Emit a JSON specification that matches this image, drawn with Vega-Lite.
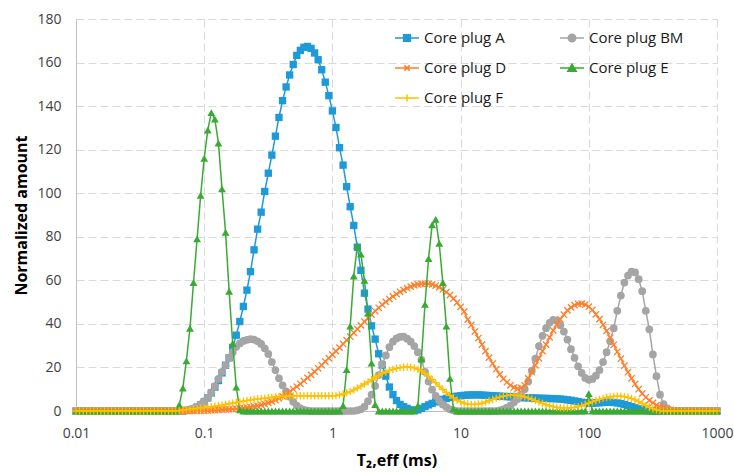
{
"$schema": "https://vega.github.io/schema/vega-lite/v6.json",
"width": 641, "height": 392,
"autosize": {"type": "none"},
"padding": {"left": 76, "top": 19, "right": 17, "bottom": 62},
"config": {"view": {"stroke": null}, "font": "Open Sans"},
"data": {"values": [
{"t":0.01,"A":0,"BM":0,"D":0,"E":0,"F":0},
{"t":0.010661,"A":0,"BM":0,"D":0,"E":0,"F":0},
{"t":0.011365,"A":0,"BM":0,"D":0,"E":0,"F":0},
{"t":0.012115,"A":0,"BM":0,"D":0,"E":0,"F":0},
{"t":0.012915,"A":0,"BM":0,"D":0,"E":0,"F":0},
{"t":0.013768,"A":0,"BM":0,"D":0,"E":0,"F":0},
{"t":0.014678,"A":0,"BM":0,"D":0,"E":0,"F":0},
{"t":0.015647,"A":0,"BM":0,"D":0,"E":0,"F":0},
{"t":0.016681,"A":0,"BM":0,"D":0,"E":0,"F":0},
{"t":0.017783,"A":0,"BM":0,"D":0,"E":0,"F":0},
{"t":0.018957,"A":0,"BM":0,"D":0,"E":0,"F":0},
{"t":0.02021,"A":0,"BM":0,"D":0,"E":0,"F":0},
{"t":0.021544,"A":0,"BM":0,"D":0,"E":0,"F":0},
{"t":0.022968,"A":0,"BM":0,"D":0,"E":0,"F":0},
{"t":0.024484,"A":0,"BM":0,"D":0,"E":0,"F":0},
{"t":0.026102,"A":0,"BM":0,"D":0,"E":0,"F":0},
{"t":0.027826,"A":0,"BM":0,"D":0,"E":0,"F":0},
{"t":0.029663,"A":0,"BM":0,"D":0,"E":0,"F":0},
{"t":0.031623,"A":0,"BM":0,"D":0,"E":0,"F":0},
{"t":0.033711,"A":0,"BM":0,"D":0,"E":0,"F":0},
{"t":0.035938,"A":0,"BM":0,"D":0,"E":0,"F":0},
{"t":0.038312,"A":0,"BM":0,"D":0,"E":0,"F":0},
{"t":0.040842,"A":0,"BM":0,"D":0,"E":0,"F":0},
{"t":0.043541,"A":0,"BM":0,"D":0,"E":0,"F":0},
{"t":0.046416,"A":0,"BM":0,"D":0,"E":0,"F":0},
{"t":0.049482,"A":0,"BM":0,"D":0,"E":0,"F":0},
{"t":0.05275,"A":0,"BM":0,"D":0,"E":0,"F":0},
{"t":0.056234,"A":0,"BM":0,"D":0,"E":0,"F":0},
{"t":0.059948,"A":0,"BM":0,"D":0,"E":0,"F":0.1},
{"t":0.063908,"A":0,"BM":0,"D":0,"E":2.8,"F":0.2},
{"t":0.068129,"A":0,"BM":0,"D":0,"E":10.5,"F":0.4},
{"t":0.07263,"A":0.3,"BM":0.3,"D":0,"E":23,"F":0.6},
{"t":0.077426,"A":0.6,"BM":0.7,"D":0,"E":38,"F":0.8},
{"t":0.08254,"A":1,"BM":1.2,"D":0,"E":59,"F":1},
{"t":0.087992,"A":1.8,"BM":2,"D":0,"E":79,"F":1.2},
{"t":0.093804,"A":2.8,"BM":3,"D":0,"E":99,"F":1.4},
{"t":0.1,"A":4.2,"BM":4.5,"D":0.1,"E":116,"F":1.6},
{"t":0.10661,"A":6,"BM":6,"D":0.2,"E":129,"F":1.8},
{"t":0.11365,"A":8.3,"BM":8.5,"D":0.3,"E":137,"F":2},
{"t":0.12115,"A":11,"BM":11.4,"D":0.4,"E":134,"F":2.2},
{"t":0.12915,"A":14,"BM":14.7,"D":0.5,"E":123,"F":2.4},
{"t":0.13768,"A":17.5,"BM":18,"D":0.6,"E":102,"F":2.7},
{"t":0.14678,"A":21,"BM":21,"D":0.7,"E":82,"F":3},
{"t":0.15647,"A":24.4,"BM":24.5,"D":0.8,"E":55,"F":3.3},
{"t":0.16681,"A":29.2,"BM":27,"D":0.9,"E":31,"F":3.6},
{"t":0.17783,"A":34.8,"BM":29.5,"D":1,"E":11,"F":3.9},
{"t":0.18957,"A":41.1,"BM":31,"D":1.2,"E":0.5,"F":4.2},
{"t":0.2021,"A":48,"BM":32.2,"D":1.4,"E":0,"F":4.5},
{"t":0.21544,"A":55.5,"BM":32.7,"D":1.6,"E":0,"F":4.8},
{"t":0.22968,"A":64,"BM":33,"D":1.8,"E":0,"F":5},
{"t":0.24484,"A":74,"BM":32.8,"D":2.1,"E":0,"F":5.3},
{"t":0.26102,"A":83.5,"BM":32,"D":2.4,"E":0,"F":5.5},
{"t":0.27826,"A":91.3,"BM":30.8,"D":2.8,"E":0,"F":5.7},
{"t":0.29663,"A":100.8,"BM":28.8,"D":3.2,"E":0,"F":5.9},
{"t":0.31623,"A":109.2,"BM":26.2,"D":3.7,"E":0,"F":6.1},
{"t":0.33711,"A":117.5,"BM":22.5,"D":4.3,"E":0,"F":6.3},
{"t":0.35938,"A":126.2,"BM":18.8,"D":5,"E":0,"F":6.5},
{"t":0.38312,"A":134.8,"BM":15,"D":5.8,"E":0,"F":6.6},
{"t":0.40842,"A":142.5,"BM":11.8,"D":6.7,"E":0,"F":6.7},
{"t":0.43541,"A":148.8,"BM":9,"D":7.7,"E":0,"F":6.8},
{"t":0.46416,"A":154.3,"BM":6.5,"D":8.8,"E":0,"F":6.9},
{"t":0.49482,"A":159.1,"BM":4.2,"D":10,"E":0,"F":6.9},
{"t":0.5275,"A":163.3,"BM":2.5,"D":11.2,"E":0,"F":7},
{"t":0.56234,"A":165.6,"BM":1.2,"D":12.5,"E":0,"F":7},
{"t":0.59948,"A":167,"BM":0.5,"D":13.8,"E":0,"F":7},
{"t":0.63908,"A":167.4,"BM":0.2,"D":15.2,"E":0,"F":7},
{"t":0.68129,"A":166.5,"BM":0,"D":16.6,"E":0,"F":7},
{"t":0.7263,"A":164.4,"BM":0,"D":18.1,"E":0,"F":7},
{"t":0.77426,"A":161.3,"BM":0,"D":19.6,"E":0,"F":7},
{"t":0.8254,"A":156.7,"BM":0,"D":21.1,"E":0,"F":7},
{"t":0.87992,"A":151,"BM":0,"D":22.7,"E":0,"F":7},
{"t":0.93804,"A":144.8,"BM":0,"D":24.3,"E":0,"F":7},
{"t":1,"A":137.8,"BM":0,"D":25.9,"E":0,"F":7},
{"t":1.0661,"A":130.2,"BM":0,"D":27.5,"E":0,"F":7.1},
{"t":1.1365,"A":120.9,"BM":0,"D":29.1,"E":0,"F":7.4},
{"t":1.2115,"A":112.9,"BM":0,"D":30.8,"E":2.5,"F":7.8},
{"t":1.2915,"A":103,"BM":0,"D":32.5,"E":19,"F":8.3},
{"t":1.3768,"A":93.8,"BM":0,"D":34.2,"E":39,"F":8.9},
{"t":1.4678,"A":85.2,"BM":0,"D":35.9,"E":62,"F":9.7},
{"t":1.5647,"A":75.2,"BM":0.3,"D":37.6,"E":76,"F":10.5},
{"t":1.6681,"A":64.6,"BM":0.8,"D":39.3,"E":72,"F":11.4},
{"t":1.7783,"A":54.1,"BM":2,"D":41,"E":60,"F":12.4},
{"t":1.8957,"A":46.8,"BM":4.5,"D":42.7,"E":45,"F":13.4},
{"t":2.021,"A":39.1,"BM":7.5,"D":44.3,"E":22,"F":14.4},
{"t":2.1544,"A":33,"BM":11.5,"D":45.9,"E":3,"F":15.4},
{"t":2.2968,"A":26.3,"BM":16.5,"D":47.4,"E":0,"F":16.3},
{"t":2.4484,"A":21.1,"BM":21.5,"D":48.8,"E":0,"F":17.2},
{"t":2.6102,"A":16,"BM":25.5,"D":50.1,"E":0,"F":17.9},
{"t":2.7826,"A":11,"BM":29.3,"D":51.4,"E":0,"F":18.6},
{"t":2.9663,"A":7.5,"BM":31.8,"D":52.6,"E":0,"F":19.1},
{"t":3.1623,"A":4.8,"BM":33.3,"D":53.7,"E":0,"F":19.6},
{"t":3.3711,"A":3,"BM":34,"D":54.7,"E":0,"F":19.9},
{"t":3.5938,"A":2,"BM":34.2,"D":55.6,"E":0,"F":20.1},
{"t":3.8312,"A":1.2,"BM":33.2,"D":56.4,"E":0,"F":20.2},
{"t":4.0842,"A":0.5,"BM":31.8,"D":57.1,"E":0,"F":20.1},
{"t":4.3541,"A":0.3,"BM":29.8,"D":57.7,"E":0,"F":19.8},
{"t":4.6416,"A":0.5,"BM":27,"D":58.1,"E":2.5,"F":19.2},
{"t":4.9482,"A":1.2,"BM":23.5,"D":58.4,"E":24,"F":18.4},
{"t":5.275,"A":2,"BM":18,"D":58.5,"E":49,"F":17.3},
{"t":5.6234,"A":2.8,"BM":13.5,"D":58.4,"E":70,"F":16},
{"t":5.9948,"A":3.5,"BM":9.8,"D":58.1,"E":85.5,"F":14.5},
{"t":6.3908,"A":4.2,"BM":7,"D":57.6,"E":88,"F":13},
{"t":6.8129,"A":4.8,"BM":4.8,"D":56.8,"E":77,"F":11.4},
{"t":7.263,"A":5.3,"BM":3,"D":55.8,"E":59,"F":9.9},
{"t":7.7426,"A":5.8,"BM":1.8,"D":54.6,"E":39,"F":8.5},
{"t":8.254,"A":6.2,"BM":0.8,"D":53.2,"E":15,"F":7.2},
{"t":8.7992,"A":6.5,"BM":0.3,"D":51.6,"E":1,"F":6},
{"t":9.3804,"A":6.8,"BM":0,"D":49.8,"E":0,"F":5},
{"t":10,"A":7,"BM":0,"D":47.8,"E":0,"F":4.2},
{"t":10.661,"A":7.2,"BM":0,"D":45.6,"E":0,"F":3.6},
{"t":11.365,"A":7.3,"BM":0,"D":42,"E":0,"F":3.2},
{"t":12.115,"A":7.4,"BM":0,"D":39.5,"E":0,"F":3},
{"t":12.915,"A":7.4,"BM":0,"D":36.5,"E":0,"F":3},
{"t":13.768,"A":7.4,"BM":0,"D":33.5,"E":0,"F":3.2},
{"t":14.678,"A":7.3,"BM":0,"D":30.5,"E":0,"F":3.6},
{"t":15.647,"A":7.2,"BM":0,"D":27.5,"E":0,"F":4.1},
{"t":16.681,"A":7.1,"BM":0,"D":24.5,"E":0,"F":4.7},
{"t":17.783,"A":7,"BM":0,"D":21.8,"E":0,"F":5.3},
{"t":18.957,"A":6.9,"BM":0,"D":19.2,"E":0,"F":5.9},
{"t":20.21,"A":6.8,"BM":0.3,"D":16.8,"E":0,"F":6.4},
{"t":21.544,"A":6.7,"BM":0.8,"D":14.8,"E":0,"F":6.8},
{"t":22.968,"A":6.6,"BM":1.5,"D":13.2,"E":0,"F":7.1},
{"t":24.484,"A":6.5,"BM":2.5,"D":11.8,"E":0,"F":7.3},
{"t":26.102,"A":6.4,"BM":4,"D":10.8,"E":0,"F":7.3},
{"t":27.826,"A":6.3,"BM":5.5,"D":10.3,"E":0,"F":7.2},
{"t":29.663,"A":6.2,"BM":7.5,"D":10.6,"E":0,"F":6.9},
{"t":31.623,"A":6.1,"BM":10,"D":11.8,"E":0,"F":6.5},
{"t":33.711,"A":6,"BM":13.5,"D":15,"E":0,"F":6},
{"t":35.938,"A":6,"BM":18.5,"D":17.8,"E":0,"F":5.4},
{"t":38.312,"A":5.9,"BM":24,"D":21,"E":0,"F":4.8},
{"t":40.842,"A":5.9,"BM":29.8,"D":24.2,"E":0,"F":4.1},
{"t":43.541,"A":5.8,"BM":34.5,"D":27.5,"E":0,"F":3.5},
{"t":46.416,"A":5.8,"BM":38,"D":30.5,"E":0,"F":2.9},
{"t":49.482,"A":5.7,"BM":40.5,"D":33.8,"E":0,"F":2.4},
{"t":52.75,"A":5.7,"BM":41.8,"D":37,"E":0,"F":2},
{"t":56.234,"A":5.6,"BM":41.5,"D":39.8,"E":0,"F":1.7},
{"t":59.948,"A":5.5,"BM":39.4,"D":42.1,"E":0,"F":1.5},
{"t":63.908,"A":5.3,"BM":36.5,"D":44.2,"E":0,"F":1.4},
{"t":68.129,"A":5.1,"BM":32.8,"D":46.2,"E":0,"F":1.4},
{"t":72.63,"A":4.9,"BM":28.4,"D":47.6,"E":0,"F":1.5},
{"t":77.426,"A":4.6,"BM":24.4,"D":48.6,"E":0,"F":1.7},
{"t":82.54,"A":4.3,"BM":20.5,"D":49.2,"E":0,"F":2},
{"t":87.992,"A":4,"BM":17.5,"D":49.3,"E":0,"F":2.5},
{"t":93.804,"A":3.8,"BM":15.2,"D":48.9,"E":0,"F":3},
{"t":100,"A":3.6,"BM":14.3,"D":47.9,"E":8,"F":3.6},
{"t":106.61,"A":3.6,"BM":14.7,"D":46.4,"E":0,"F":4.2},
{"t":113.65,"A":3.7,"BM":16.2,"D":44.4,"E":0,"F":4.8},
{"t":121.15,"A":3.8,"BM":18.8,"D":42.2,"E":0,"F":5.3},
{"t":129.15,"A":3.9,"BM":22.5,"D":39.6,"E":0,"F":5.8},
{"t":137.68,"A":4,"BM":27,"D":36.8,"E":0,"F":6.2},
{"t":146.78,"A":4,"BM":32,"D":33.6,"E":0,"F":6.5},
{"t":156.47,"A":3.9,"BM":38,"D":30.4,"E":0,"F":6.7},
{"t":166.81,"A":3.7,"BM":46,"D":27.2,"E":0,"F":6.8},
{"t":177.83,"A":3.4,"BM":53,"D":24,"E":0,"F":6.8},
{"t":189.57,"A":3,"BM":59,"D":20.8,"E":0,"F":6.6},
{"t":202.1,"A":2.5,"BM":62.2,"D":17.8,"E":0,"F":6.3},
{"t":215.44,"A":2,"BM":64,"D":15,"E":0,"F":5.8},
{"t":229.68,"A":1.5,"BM":63.6,"D":12.4,"E":0,"F":5.1},
{"t":244.84,"A":1,"BM":60.5,"D":10,"E":0,"F":4.3},
{"t":261.02,"A":0.6,"BM":55,"D":8,"E":0,"F":3.4},
{"t":278.26,"A":0.3,"BM":46,"D":6.3,"E":0,"F":2.5},
{"t":296.63,"A":0,"BM":37.5,"D":4.9,"E":0,"F":1.7},
{"t":316.23,"A":0,"BM":26,"D":3.7,"E":0,"F":1},
{"t":337.11,"A":0,"BM":16,"D":2.7,"E":0,"F":0.5},
{"t":359.38,"A":0,"BM":7.5,"D":1.9,"E":0,"F":0.2},
{"t":383.12,"A":0,"BM":3.2,"D":1.3,"E":0,"F":0},
{"t":408.42,"A":0,"BM":1.2,"D":0.8,"E":0,"F":0},
{"t":435.41,"A":0,"BM":0.3,"D":0.5,"E":0,"F":0},
{"t":464.16,"A":0,"BM":0,"D":0.3,"E":0,"F":0},
{"t":494.82,"A":0,"BM":0,"D":0.1,"E":0,"F":0},
{"t":527.5,"A":0,"BM":0,"D":0,"E":0,"F":0},
{"t":562.34,"A":0,"BM":0,"D":0,"E":0,"F":0},
{"t":599.48,"A":0,"BM":0,"D":0,"E":0,"F":0},
{"t":639.08,"A":0,"BM":0,"D":0,"E":0,"F":0},
{"t":681.29,"A":0,"BM":0,"D":0,"E":0,"F":0},
{"t":726.3,"A":0,"BM":0,"D":0,"E":0,"F":0},
{"t":774.26,"A":0,"BM":0,"D":0,"E":0,"F":0},
{"t":825.4,"A":0,"BM":0,"D":0,"E":0,"F":0},
{"t":879.92,"A":0,"BM":0,"D":0,"E":0,"F":0},
{"t":938.04,"A":0,"BM":0,"D":0,"E":0,"F":0},
{"t":1000,"A":0,"BM":0,"D":0,"E":0,"F":0}
]},
"transform": [{"fold": ["A","BM","D","E","F"], "as": ["s","v"]}],
"encoding": {
  "x": {"field": "t", "type": "quantitative",
    "scale": {"type": "log", "domain": [0.01, 1000], "nice": false},
    "axis": {"title": "T₂,eff (ms)", "values": [0.01,0.1,1,10,100,1000], "format": "~g",
      "grid": true, "gridDash": [8,4], "gridColor": "#d9d9d9", "gridWidth": 1,
      "domain": true, "domainColor": "#bfbfbf", "ticks": false,
      "labelFontSize": 14, "labelColor": "#404040", "labelPadding": 15, "labelFlush": false,
      "titleFontSize": 16, "titleFontWeight": "bold", "titleColor": "#000000", "titlePadding": 12}},
  "y": {"field": "v", "type": "quantitative",
    "scale": {"domain": [0, 180], "nice": false},
    "axis": {"title": "Normalized amount", "values": [0,20,40,60,80,100,120,140,160,180],
      "grid": true, "gridDash": [8,4], "gridColor": "#d9d9d9", "gridWidth": 1,
      "domain": true, "domainColor": "#bfbfbf", "ticks": false,
      "labelFontSize": 14, "labelColor": "#404040", "labelPadding": 15,
      "titleFontSize": 16, "titleFontWeight": "bold", "titleColor": "#000000", "titlePadding": 7}},
  "color": {"field": "s", "type": "nominal",
    "scale": {"domain": ["A","BM","D","E","F"], "range": ["#1f9ad8","#a5a5a5","#ff7f2a","#3aaa35","#ffc000"]},
    "legend": {"orient": "none", "legendX": 318, "legendY": 6, "columns": 2, "direction": "horizontal",
      "columnPadding": 50, "rowPadding": 9,
      "title": null, "symbolSize": 576, "labelFontSize": 15, "labelColor": "#1a1a1a", "labelOffset": 4,
      "labelExpr": "'Core plug ' + datum.label",
      "encode": {"symbols": {"update": {
        "shape": {"signal": "datum.value == 'A' ? 'M-1,0H1M-0.28,-0.28H0.28V0.28H-0.28Z' : datum.value == 'BM' ? 'M-1,0H1M0.31,0A0.31,0.31,0,1,1,-0.31,0A0.31,0.31,0,1,1,0.31,0Z' : datum.value == 'D' ? 'M-1,0H1M-0.22,-0.22L0.22,0.22M-0.22,0.22L0.22,-0.22' : datum.value == 'E' ? 'M-1,0H1M0,-0.32L0.35,0.27H-0.35Z' : 'M-1,0H1M0,-0.3V0.3'"},
        "fill": {"scale": "color", "field": "value"},
        "stroke": {"scale": "color", "field": "value"},
        "strokeWidth": {"value": 1.5},
        "opacity": {"value": 1}}}}}}
},
"layer": [
  {"transform": [{"filter": {"field": "s", "equal": "A"}}],
   "mark": {"type": "line", "strokeWidth": 1.5, "point": {"shape": "square", "filled": true, "size": 54, "opacity": 1}}},
  {"transform": [{"filter": {"field": "s", "equal": "BM"}}],
   "mark": {"type": "line", "strokeWidth": 1.5, "point": {"shape": "circle", "filled": true, "size": 60, "opacity": 1}}},
  {"transform": [{"filter": {"field": "s", "equal": "D"}}],
   "mark": {"type": "line", "strokeWidth": 1.5, "point": {"shape": "M-1,-1L1,1M-1,1L1,-1", "filled": false, "size": 40, "strokeWidth": 1.3, "opacity": 1}}},
  {"transform": [{"filter": {"field": "s", "equal": "E"}}],
   "mark": {"type": "line", "strokeWidth": 1.5, "point": {"shape": "triangle-up", "filled": true, "size": 62, "opacity": 1}}},
  {"transform": [{"filter": {"field": "s", "equal": "F"}}],
   "mark": {"type": "line", "strokeWidth": 1.5, "point": {"shape": "M-1,0H1M0,-1V1", "filled": false, "size": 54, "strokeWidth": 1.3, "opacity": 1}}}
]
}
